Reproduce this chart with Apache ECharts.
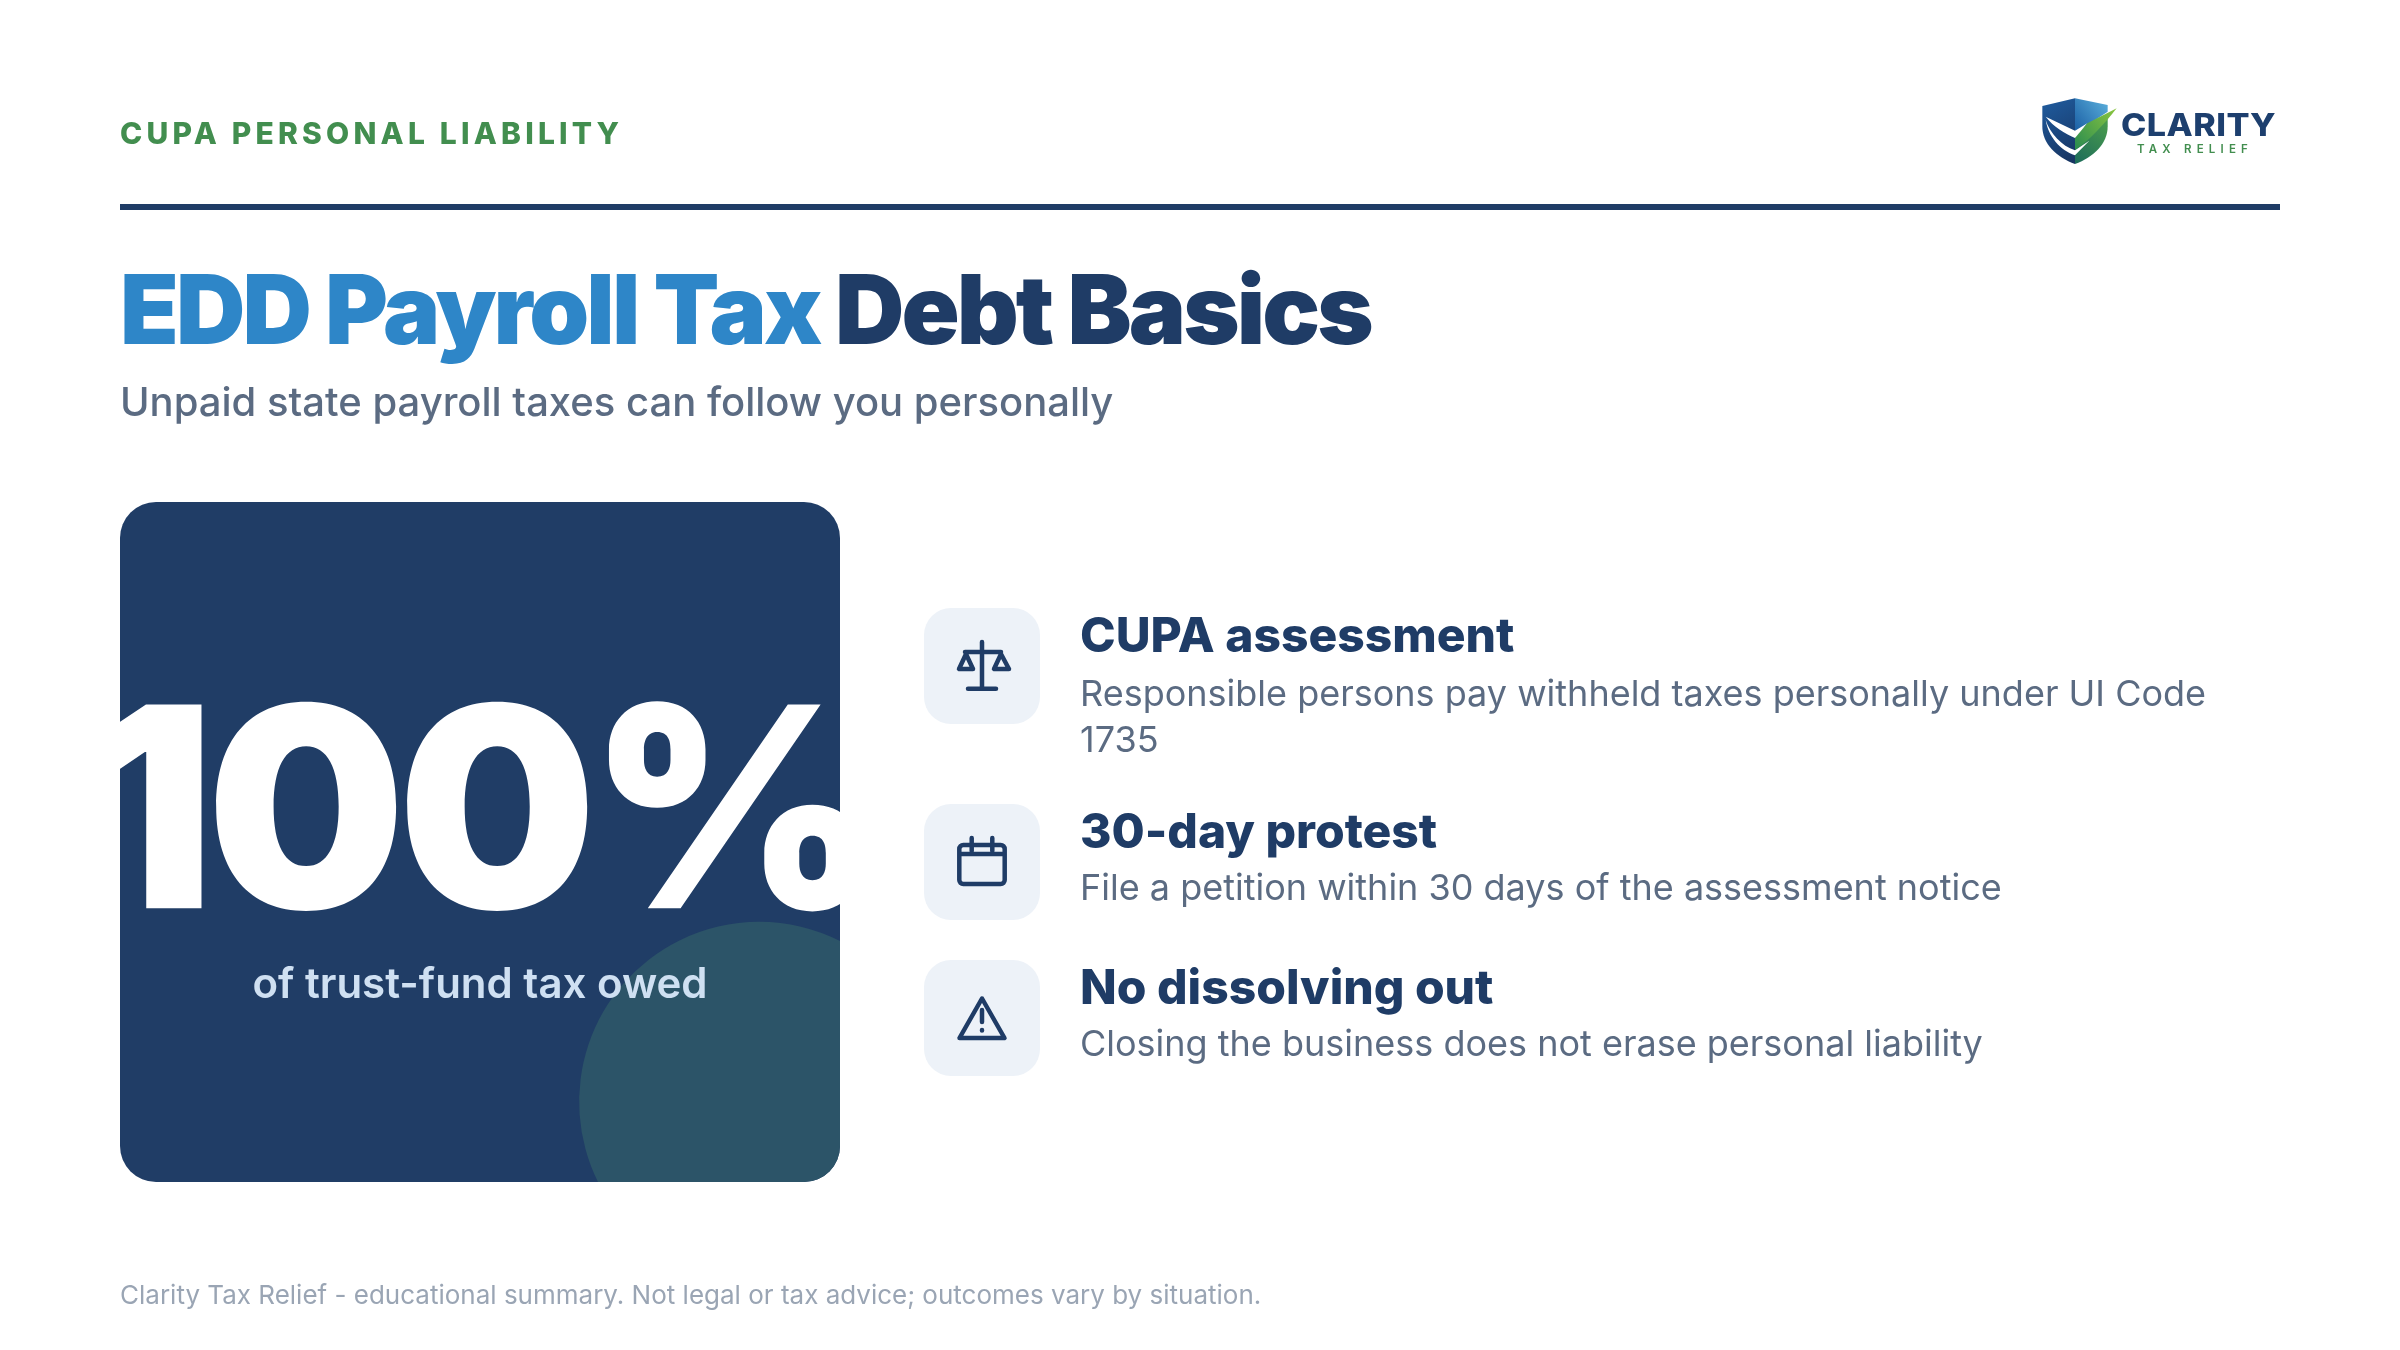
<!DOCTYPE html>
<html>
<head>
<meta charset="utf-8">
<title>EDD Payroll Tax Debt Basics</title>
<style>
  html, body { margin: 0; padding: 0; background: #fff; }
  #chart { width: 2400px; height: 1350px; }
</style>
<script src="https://cdn.jsdelivr.net/npm/echarts@6/dist/echarts.min.js"></script>
</head>
<body>
<div id="chart"></div>
<script>
// slide copy
const eyebrow = 'CUPA PERSONAL LIABILITY';
const titleBlue = 'EDD Payroll Tax';
const titleNavy = 'Debt Basics';
const subtitle = 'Unpaid state payroll taxes can follow you personally';
const heroValue = '100%';
const heroLabel = 'of trust-fund tax owed';
const itemTitles = ['CUPA assessment', '30-day protest', 'No dissolving out'];
const itemTexts = [
  'Responsible persons pay withheld taxes personally under UI Code\n1735',
  'File a petition within 30 days of the assessment notice',
  'Closing the business does not erase personal liability'
];
const footnote = 'Clarity Tax Relief - educational summary. Not legal or tax advice; outcomes vary by situation.';

const NAVY = '#1f3c66', BLUE = '#2e86c8', GREEN = '#428e4f', SLATE = '#5b6b82';
const FONT = 'Inter, "Noto Sans", sans-serif';

// zrender has no letter spacing option, so set it on the canvas per string
const spacing = {
  [eyebrow]: 4.2, [titleBlue]: -2.9, [titleNavy]: -2.9, [heroValue]: -8,
  'CLARITY': 0.4, 'TAX RELIEF': 5.2
};
const fillText = CanvasRenderingContext2D.prototype.fillText;
CanvasRenderingContext2D.prototype.fillText = function (t, x, y, m) {
  this.letterSpacing = (spacing[t] || 0) + 'px';
  return m === undefined ? fillText.call(this, t, x, y) : fillText.call(this, t, x, y, m);
};

function shape(name, d) {
  echarts.graphic.registerShape(name, echarts.graphic.extendPath(d, {}));
}
// corner circle, already cut to the card edge
shape('cardCircle', 'M840 941 L840 1146 A36 36 0 0 1 804 1182 L598 1182 A180 180 0 0 1 840 941 Z');
// icons, centred on the tile
shape('iconScale', 'M0 -24 L0 22.7 M-14 22.7 L14 22.7 M-17 -14 L19 -14 M-16 -12 L-23 3 L-9 3 Z M19 -12 L12 3 L27 3 Z');
shape('iconCalendar', 'M-18.7 -17 L18.7 -17 A4 4 0 0 1 22.7 -13 L22.7 18 A4 4 0 0 1 18.7 22 L-18.7 22 A4 4 0 0 1 -22.7 18 L-22.7 -13 A4 4 0 0 1 -18.7 -17 Z M-10.3 -24 L-10.3 -11 M10.3 -24 L10.3 -11 M-22.7 -8 L22.7 -8');
shape('iconAlert', 'M0 -19.5 L22.5 20 L-22.5 20 Z M0 -8 L0 4 M0 12 L0 12.4');
// logo pieces in zoomed logo units
shape('logoLeft', 'M225 85 L127 108 L127 170 C127 220 170 262 225 282 Z');
shape('logoTop', 'M225 85 L323 105 L323 125 L225 190 Z');
shape('logoBottom', 'M225 205 L323 142 L323 170 C323 220 280 262 225 282 Z');
shape('logoWhite', 'M137 140 L225 182 L262 160 L225 204 C195 190 160 170 137 140 Z M137 150 C150 190 185 228 225 241 L268 212 L225 256 C180 240 145 200 137 150 Z');
shape('logoTick', 'M225 204 L262 160 L350 115 C310 165 270 210 225 240 Z');

function text(str, x, y, font, fill, align, scaleX) {
  return {
    type: 'text', x: x, y: y, scaleX: scaleX || 1,
    style: { text: str, font: font, fill: fill, textAlign: align || 'left', textVerticalAlign: 'middle' }
  };
}
function grad(x, y, x2, y2, c0, c1) {
  return new echarts.graphic.LinearGradient(x, y, x2, y2, [{ offset: 0, color: c0 }, { offset: 1, color: c1 }], true);
}

const tileY = [608, 804, 960];
const iconNames = ['iconScale', 'iconCalendar', 'iconAlert'];
const titleY = [638, 834, 990];
const textY = [694, 888, 1044];

const elements = [
  text(eyebrow, 120, 135, '800 30px ' + FONT, GREEN),
  { type: 'rect', shape: { x: 120, y: 204, width: 2160, height: 6 }, style: { fill: NAVY } },
  text(titleBlue, 120, 315, '900 96px ' + FONT, BLUE),
  text(titleNavy, 835, 315, '900 96px ' + FONT, NAVY),
  text(subtitle, 120, 404, '500 40px ' + FONT, SLATE),

  // left card
  { type: 'rect', shape: { x: 120, y: 502, width: 720, height: 680, r: 36 }, style: { fill: '#203d66' } },
  { type: 'cardCircle', style: { fill: '#2c5468' } },
  text(heroValue, 88, 824, '900 280px ' + FONT, '#ffffff'),
  text(heroLabel, 480, 985, '600 42px ' + FONT, '#cfe0f2', 'center'),

  text(footnote, 120, 1296, '400 26px ' + FONT, '#9aa5b4'),

  // logo
  {
    type: 'group', x: 2000, y: 70, scaleX: 1 / 3, scaleY: 1 / 3,
    children: [
      { type: 'logoLeft', style: { fill: grad(125, 100, 225, 280, '#1f5a9c', '#17335f') } },
      { type: 'logoTop', style: { fill: grad(225, 170, 325, 90, '#1f64a8', '#5bb0dc') } },
      { type: 'logoBottom', style: { fill: grad(225, 280, 325, 150, '#1c6b5a', '#4c9e4c') } },
      { type: 'logoWhite', style: { fill: '#ffffff' } },
      { type: 'logoTick', style: { fill: grad(225, 220, 350, 115, '#2f8f4f', '#8cc63f') } }
    ]
  },
  text('CLARITY', 2121, 127, '800 31px ' + FONT, '#1d3f6e', 'left', 1.1),
  text('TAX RELIEF', 2137, 150, '600 11.5px ' + FONT, GREEN)
];

itemTitles.forEach(function (title, i) {
  elements.push(
    { type: 'rect', shape: { x: 924, y: tileY[i], width: 116, height: 116, r: 27 }, style: { fill: '#edf2f8' } },
    {
      type: 'group', x: 982, y: tileY[i] + 58,
      children: [{
        type: iconNames[i],
        style: { fill: null, stroke: NAVY, lineWidth: 4.5, lineCap: 'round', lineJoin: 'round' }
      }]
    },
    text(title, 1080, titleY[i], '800 48px ' + FONT, NAVY),
    {
      type: 'text', x: 1080, y: textY[i] - 22,
      style: { text: itemTexts[i], font: '400 36px ' + FONT, fill: SLATE, lineHeight: 46, textAlign: 'left', textVerticalAlign: 'top' }
    }
  );
});

const chart = echarts.init(document.getElementById('chart'), null, { renderer: 'canvas', devicePixelRatio: 1 });
chart.setOption({
  animation: false,
  backgroundColor: '#ffffff',
  graphic: { elements: elements }
});
</script>
</body>
</html>
